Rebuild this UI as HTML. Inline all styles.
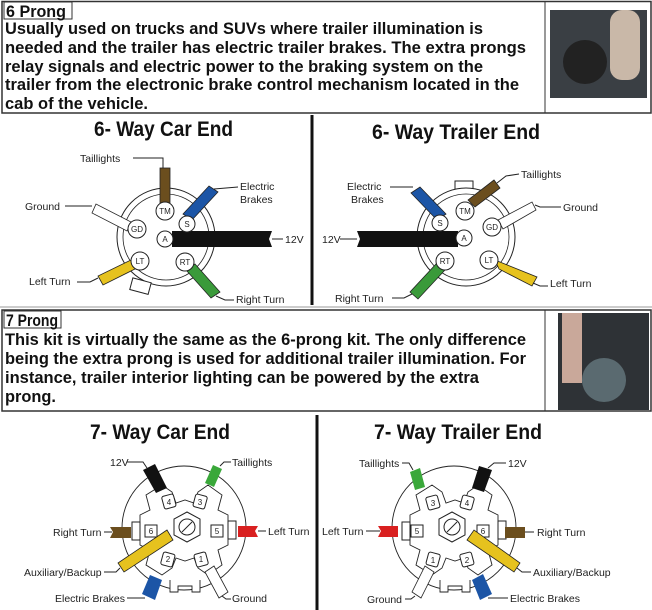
<!DOCTYPE html>
<html><head><meta charset="utf-8"><style>
html,body{margin:0;padding:0;background:#fff;}
svg{display:block;font-family:"Liberation Sans",Arial,sans-serif;}
.p{font-size:17px;font-weight:bold;fill:#111;}
.t{font-size:21px;font-weight:bold;fill:#111;}
.l{font-size:10.5px;fill:#222;}
.pin{fill:#fff;stroke:#222;stroke-width:1;}
.pt{font-size:8px;fill:#222;text-anchor:middle;}
.ld{stroke:#222;stroke-width:1;fill:none;}
.w{stroke:#222;stroke-width:0.8;}
</style></head><body>
<svg width="652" height="610" viewBox="0 0 652 610" xmlns="http://www.w3.org/2000/svg">
<!-- ===== TOP BOX ===== -->
<rect x="2" y="1.5" width="649" height="111.5" fill="#fff" stroke="#333" stroke-width="1.5"/>
<line x1="545" y1="1.5" x2="545" y2="113" stroke="#333" stroke-width="1"/>
<rect x="550" y="10" width="97" height="88" fill="#3a3f44"/>
<circle cx="585" cy="62" r="22" fill="#222"/>
<rect x="610" y="10" width="30" height="70" rx="12" fill="#c9b8a8"/>
<rect x="4" y="2" width="68" height="17" fill="#fff" stroke="#333" stroke-width="1"/>
<text class="p" x="6" y="17" textLength="60" lengthAdjust="spacingAndGlyphs">6 Prong</text>
<text class="p" x="5" y="34" textLength="478" lengthAdjust="spacingAndGlyphs">Usually used on trucks and SUVs where trailer illumination is</text>
<text class="p" x="5" y="53" textLength="521" lengthAdjust="spacingAndGlyphs">needed and the trailer has electric trailer brakes. The extra prongs</text>
<text class="p" x="5" y="72" textLength="478" lengthAdjust="spacingAndGlyphs">relay signals and electric power to the braking system on the</text>
<text class="p" x="5" y="90" textLength="514" lengthAdjust="spacingAndGlyphs">trailer from the electronic brake control mechanism located in the</text>
<text class="p" x="5" y="109" textLength="143" lengthAdjust="spacingAndGlyphs">cab of the vehicle.</text>

<line x1="312" y1="115" x2="312" y2="305" stroke="#111" stroke-width="3"/>
<text class="t" x="94" y="136" textLength="139" lengthAdjust="spacingAndGlyphs">6- Way Car End</text>
<text class="t" x="372" y="139" textLength="168" lengthAdjust="spacingAndGlyphs">6- Way Trailer End</text>

<!-- 6-way car -->
<circle cx="166" cy="237" r="49" fill="#fff" stroke="#222" stroke-width="1"/>
<circle cx="166" cy="237" r="43" fill="none" stroke="#222" stroke-width="0.8"/>
<rect x="131" y="280" width="19" height="12" fill="#fff" stroke="#222" transform="rotate(15 140 286)"/>
<rect x="160" y="168" width="10" height="36" fill="#6b4e1e" class="w"/>
<polyline class="ld" points="133,158 163,158 163,168"/>
<text class="l" x="80" y="162">Taillights</text>
<polygon points="183,214 192,220 218,192 209,186" fill="#1c55a6" class="w"/>
<polyline class="ld" points="214,189 238,187"/>
<text class="l" x="240" y="190">Electric</text><text class="l" x="240" y="203">Brakes</text>
<polygon points="131,222 127,231 92,213 96,204" fill="#fff" class="w"/>
<polyline class="ld" points="65,206 92,206"/>
<text class="l" x="25" y="210">Ground</text>
<polygon points="172,231 272,231 269,239 272,247 172,247" fill="#111"/>
<polyline class="ld" points="272,239 283,239"/>
<text class="l" x="285" y="243">12V</text>
<polygon points="135,258 139,267 103,285 98,276" fill="#e6c21e" class="w"/>
<polyline class="ld" points="77,282 90,282 98,278"/>
<text class="l" x="29" y="285">Left Turn</text>
<polygon points="186,270 195,264 220,292 211,298" fill="#3a9a3a" class="w"/>
<polyline class="ld" points="216,296 225,300 234,300"/>
<text class="l" x="236" y="303">Right Turn</text>
<circle class="pin" cx="165" cy="211" r="9"/><text class="pt" x="165" y="214">TM</text>
<circle class="pin" cx="187" cy="224" r="8"/><text class="pt" x="187" y="227">S</text>
<circle class="pin" cx="137" cy="229" r="9"/><text class="pt" x="137" y="232">GD</text>
<circle class="pin" cx="165" cy="239" r="8"/><text class="pt" x="165" y="242">A</text>
<circle class="pin" cx="140" cy="261" r="9"/><text class="pt" x="140" y="264">LT</text>
<circle class="pin" cx="185" cy="262" r="9"/><text class="pt" x="185" y="265">RT</text>

<!-- 6-way trailer -->
<rect x="455" y="181" width="18" height="10" fill="#fff" stroke="#222"/>
<circle cx="466" cy="237" r="49" fill="#fff" stroke="#222" stroke-width="1"/>
<circle cx="466" cy="237" r="43" fill="none" stroke="#222" stroke-width="0.8"/>
<polygon points="437,220 446,214 420,187 411,193" fill="#1c55a6" class="w"/>
<polyline class="ld" points="390,187 413,187"/>
<text class="l" x="347" y="190">Electric</text><text class="l" x="351" y="203">Brakes</text>
<polygon points="468,200 475,207 500,188 494,180" fill="#6b4e1e" class="w"/>
<polyline class="ld" points="497,183 506,176 519,174"/>
<text class="l" x="521" y="178">Taillights</text>
<polygon points="498,220 503,229 536,210 532,202" fill="#fff" class="w"/>
<polyline class="ld" points="535,205 540,207 561,207"/>
<text class="l" x="563" y="211">Ground</text>
<polygon points="357,231 458,231 458,247 357,247 360,239" fill="#111"/>
<polyline class="ld" points="340,239 357,239"/>
<text class="l" x="322" y="243">12V</text>
<polygon points="495,260 499,269 532,286 537,277" fill="#e6c21e" class="w"/>
<polyline class="ld" points="533,283 540,286 548,286"/>
<text class="l" x="550" y="287">Left Turn</text>
<polygon points="436,264 445,270 418,299 410,292" fill="#3a9a3a" class="w"/>
<polyline class="ld" points="392,298 404,298 412,294"/>
<text class="l" x="335" y="302">Right Turn</text>
<circle class="pin" cx="465" cy="211" r="9"/><text class="pt" x="465" y="214">TM</text>
<circle class="pin" cx="440" cy="223" r="8"/><text class="pt" x="440" y="226">S</text>
<circle class="pin" cx="492" cy="227" r="9"/><text class="pt" x="492" y="230">GD</text>
<circle class="pin" cx="464" cy="238" r="8"/><text class="pt" x="464" y="241">A</text>
<circle class="pin" cx="445" cy="261" r="9"/><text class="pt" x="445" y="264">RT</text>
<circle class="pin" cx="489" cy="260" r="9"/><text class="pt" x="489" y="263">LT</text>

<line x1="0" y1="307" x2="652" y2="307" stroke="#999" stroke-width="1"/>

<!-- ===== 7 PRONG BOX ===== -->
<rect x="2" y="310" width="649" height="101" fill="#fff" stroke="#333" stroke-width="1.5"/>
<line x1="545" y1="310" x2="545" y2="411" stroke="#333" stroke-width="1"/>
<rect x="558" y="313" width="91" height="97" fill="#2e3236"/>
<rect x="562" y="313" width="20" height="70" fill="#c9a89a"/>
<circle cx="604" cy="380" r="22" fill="#5a6a70"/>
<rect x="4" y="311" width="57" height="17" fill="#fff" stroke="#333" stroke-width="1"/>
<text class="p" x="6" y="326" textLength="52" lengthAdjust="spacingAndGlyphs">7 Prong</text>
<text class="p" x="5" y="345" textLength="521" lengthAdjust="spacingAndGlyphs">This kit is virtually the same as the 6-prong kit. The only difference</text>
<text class="p" x="5" y="364" textLength="521" lengthAdjust="spacingAndGlyphs">being the extra prong is used for additional trailer illumination. For</text>
<text class="p" x="5" y="383" textLength="474" lengthAdjust="spacingAndGlyphs">instance, trailer interior lighting can be powered by the extra</text>
<text class="p" x="5" y="402" textLength="51" lengthAdjust="spacingAndGlyphs">prong.</text>

<line x1="317" y1="415" x2="317" y2="610" stroke="#111" stroke-width="3"/>
<text class="t" x="90" y="439" textLength="140" lengthAdjust="spacingAndGlyphs">7- Way Car End</text>
<text class="t" x="374" y="439" textLength="168" lengthAdjust="spacingAndGlyphs">7- Way Trailer End</text>

<!-- 7-way car -->
<g>
<circle cx="184" cy="528" r="62" fill="#fff" stroke="#222" stroke-width="0.9"/>
<path d="M146,495 L162,485 L172,492 L176,503 L185,500 L194,503 L198,492 L208,485 L222,495 L218,510 L228,515 L228,545 L218,550 L222,565 L208,575 L198,568 L194,558 L185,561 L176,558 L172,568 L162,575 L146,565 L150,550 L140,545 L140,515 L150,510 Z" fill="#fff" stroke="#222" stroke-width="0.9"/>
<path d="M170,580 L170,592 L178,592 L178,586 L192,586 L192,592 L200,592 L200,580" fill="#fff" stroke="#222" stroke-width="0.9"/>
<polygon points="187,512 200,519 200,535 187,542 174,535 174,519" fill="#fff" stroke="#222"/>
<circle cx="187" cy="527" r="8" fill="#fff" stroke="#222"/>
<line x1="182" y1="532" x2="192" y2="522" stroke="#222"/>
<rect x="163" y="495" width="12" height="13" rx="2" fill="#fff" stroke="#222" transform="rotate(-15 169 502)"/><text class="pt" x="169" y="505">4</text>
<rect x="194" y="495" width="12" height="13" rx="2" fill="#fff" stroke="#222" transform="rotate(15 200 502)"/><text class="pt" x="200" y="505">3</text>
<rect x="145" y="525" width="12" height="12" fill="#fff" stroke="#222"/><text class="pt" x="151" y="534">6</text>
<rect x="211" y="525" width="12" height="12" fill="#fff" stroke="#222"/><text class="pt" x="217" y="534">5</text>
<rect x="162" y="553" width="12" height="13" rx="2" fill="#fff" stroke="#222" transform="rotate(15 168 559)"/><text class="pt" x="168" y="562">2</text>
<rect x="195" y="553" width="12" height="13" rx="2" fill="#fff" stroke="#222" transform="rotate(-15 201 559)"/><text class="pt" x="201" y="562">1</text>
<rect x="132" y="522" width="8" height="18" fill="#fff" stroke="#222"/>
<rect x="228" y="521" width="8" height="18" fill="#fff" stroke="#222"/>
<polygon points="143,470 155,464 167,488 156,493" fill="#111"/>
<polyline class="ld" points="127,462 143,462 147,468"/>
<text class="l" x="110" y="466">12V</text>
<polygon points="213,465 222,469 214,487 205,483" fill="#3aa83a"/>
<polyline class="ld" points="220,466 224,462 231,462"/>
<text class="l" x="232" y="466">Taillights</text>
<polygon points="110,527 131,527 131,538 110,538 113,532" fill="#6b4e1e"/>
<polyline class="ld" points="104,532 112,532"/>
<text class="l" x="53" y="536">Right Turn</text>
<polygon points="238,526 258,526 255,531 258,537 238,537" fill="#d92020"/>
<polyline class="ld" points="258,531 266,531"/>
<text class="l" x="268" y="535">Left Turn</text>
<polygon points="167,530 173,540 124,572 118,563" fill="#e6c21e" class="w"/>
<polyline class="ld" points="104,572 116,572 120,568"/>
<text class="l" x="24" y="576">Auxiliary/Backup</text>
<polygon points="150,575 162,580 155,600 142,594" fill="#1c55a6"/>
<polyline class="ld" points="127,598 145,598"/>
<text class="l" x="55" y="602">Electric Brakes</text>
<polygon points="205,572 214,566 228,592 219,598" fill="#fff" class="w"/>
<polyline class="ld" points="222,596 226,599 231,599"/>
<text class="l" x="232" y="602">Ground</text>
</g>

<!-- 7-way trailer -->
<g>
<circle cx="454" cy="528" r="62" fill="#fff" stroke="#222" stroke-width="0.9"/>
<path d="M416,495 L432,485 L442,492 L446,503 L455,500 L464,503 L468,492 L478,485 L492,495 L488,510 L498,515 L498,545 L488,550 L492,565 L478,575 L468,568 L464,558 L455,561 L446,558 L442,568 L432,575 L416,565 L420,550 L410,545 L410,515 L420,510 Z" fill="#fff" stroke="#222" stroke-width="0.9"/>
<path d="M440,580 L440,592 L448,592 L448,586 L462,586 L462,592 L470,592 L470,580" fill="#fff" stroke="#222" stroke-width="0.9"/>
<polygon points="452,512 465,519 465,535 452,542 439,535 439,519" fill="#fff" stroke="#222"/>
<circle cx="452" cy="527" r="8" fill="#fff" stroke="#222"/>
<line x1="447" y1="532" x2="457" y2="522" stroke="#222"/>
<rect x="427" y="496" width="12" height="13" rx="2" fill="#fff" stroke="#222" transform="rotate(-15 433 503)"/><text class="pt" x="433" y="506">3</text>
<rect x="461" y="496" width="12" height="13" rx="2" fill="#fff" stroke="#222" transform="rotate(15 467 503)"/><text class="pt" x="467" y="506">4</text>
<rect x="411" y="525" width="12" height="12" fill="#fff" stroke="#222"/><text class="pt" x="417" y="534">5</text>
<rect x="477" y="525" width="12" height="12" fill="#fff" stroke="#222"/><text class="pt" x="483" y="534">6</text>
<rect x="427" y="553" width="12" height="13" rx="2" fill="#fff" stroke="#222" transform="rotate(15 433 560)"/><text class="pt" x="433" y="563">1</text>
<rect x="461" y="553" width="12" height="13" rx="2" fill="#fff" stroke="#222" transform="rotate(-15 467 560)"/><text class="pt" x="467" y="563">2</text>
<rect x="402" y="522" width="8" height="18" fill="#fff" stroke="#222"/>
<rect x="498" y="521" width="8" height="18" fill="#fff" stroke="#222"/>
<polygon points="410,472 420,468 425,487 415,490" fill="#3aa83a"/>
<polyline class="ld" points="402,463 409,463 413,470"/>
<text class="l" x="359" y="467">Taillights</text>
<polygon points="479,466 492,470 484,492 472,488" fill="#111"/>
<polyline class="ld" points="488,468 494,463 506,463"/>
<text class="l" x="508" y="467">12V</text>
<polygon points="378,526 398,526 398,537 378,537 381,531" fill="#d92020"/>
<polyline class="ld" points="366,531 380,531"/>
<text class="l" x="322" y="535">Left Turn</text>
<polygon points="505,527 525,527 525,538 505,538" fill="#6b4e1e"/>
<polyline class="ld" points="525,532 534,532"/>
<text class="l" x="537" y="536">Right Turn</text>
<polygon points="467,540 474,530 520,563 514,572" fill="#e6c21e" class="w"/>
<polyline class="ld" points="517,568 522,572 531,572"/>
<text class="l" x="533" y="576">Auxiliary/Backup</text>
<polygon points="472,580 483,574 492,594 480,600" fill="#1c55a6"/>
<polyline class="ld" points="488,598 508,598"/>
<text class="l" x="510" y="602">Electric Brakes</text>
<polygon points="425,566 434,572 421,598 412,592" fill="#fff" class="w"/>
<polyline class="ld" points="405,599 411,599 415,596"/>
<text class="l" x="367" y="603">Ground</text>
</g>
</svg>
</body></html>
